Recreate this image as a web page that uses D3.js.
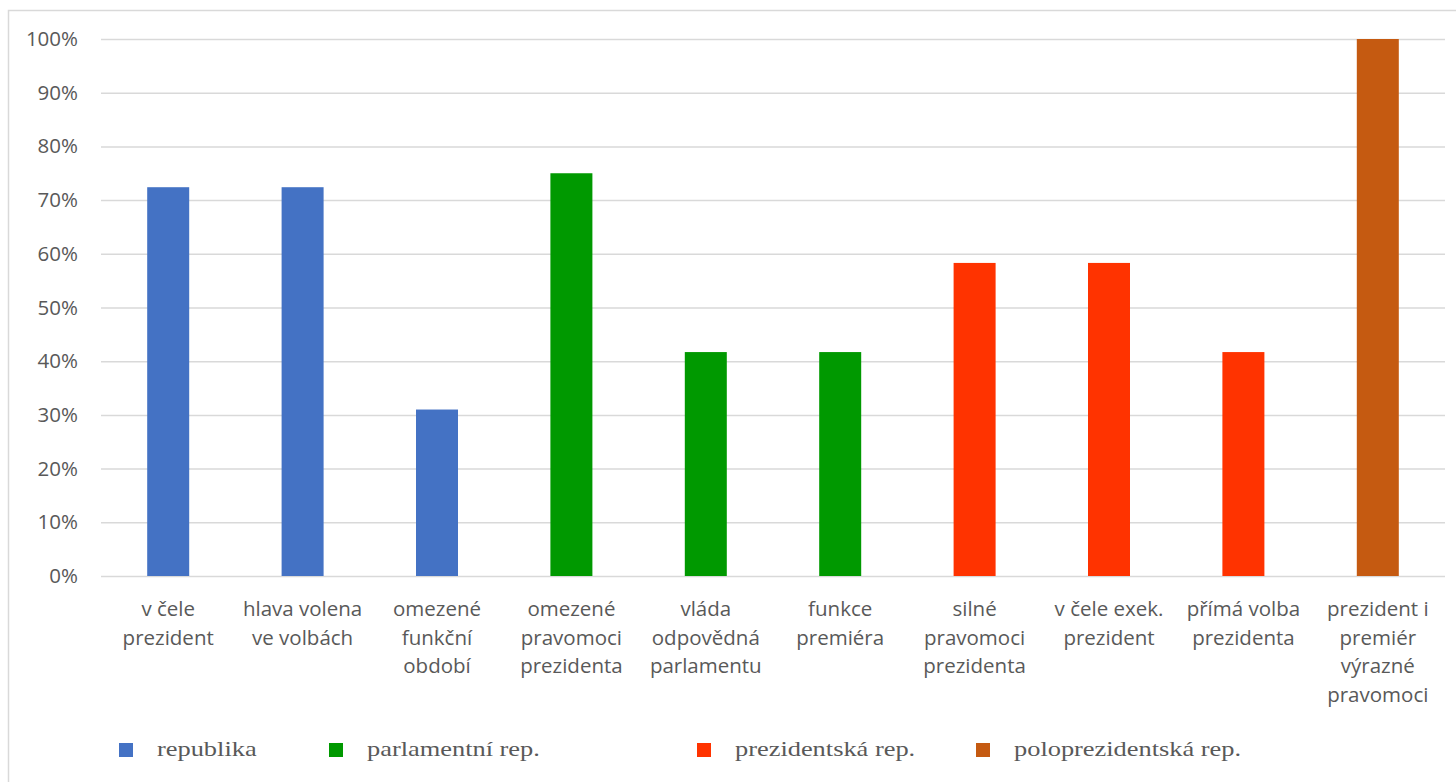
<!DOCTYPE html>
<html>
<head>
<meta charset="utf-8">
<script src="https://cdn.jsdelivr.net/npm/d3@7"></script>
<style>
  html, body { margin: 0; padding: 0; background: #fff; }
  svg { display: block; }
</style>
</head>
<body>
<svg id="chart" width="1456" height="782"></svg>
<script>
// ---- data ----
const categories = [
  ["v čele", "prezident"],
  ["hlava volena", "ve volbách"],
  ["omezené", "funkční", "období"],
  ["omezené", "pravomoci", "prezidenta"],
  ["vláda", "odpovědná", "parlamentu"],
  ["funkce", "premiéra"],
  ["silné", "pravomoci", "prezidenta"],
  ["v čele exek.", "prezident"],
  ["přímá volba", "prezidenta"],
  ["prezident i", "premiér", "výrazné", "pravomoci"]
];
const values = [72.4, 72.4, 31.0, 75.0, 41.7, 41.7, 58.3, 58.3, 41.7, 100];
const groups = ["republika", "republika", "republika",
  "parlamentní rep.", "parlamentní rep.", "parlamentní rep.",
  "prezidentská rep.", "prezidentská rep.", "prezidentská rep.",
  "poloprezidentská rep."];
const seriesNames = ["republika", "parlamentní rep.", "prezidentská rep.", "poloprezidentská rep."];
const seriesColors = ["#4472C4", "#009900", "#FF3300", "#C55A11"];
const yTicks = [0, 10, 20, 30, 40, 50, 60, 70, 80, 90, 100];

// ---- layout ----
const svg = d3.select("#chart");
const plot = { left: 101, right: 1445, top: 39, bottom: 576 };
const textColor = "#595959";
const gridColor = "#D9D9D9";

// outer chart border
svg.append("rect")
  .attr("x", 8.5).attr("y", 10.5)
  .attr("width", 1470).attr("height", 800)
  .attr("fill", "none").attr("stroke", gridColor).attr("stroke-width", 1.5);

const x = d3.scaleBand()
  .domain(d3.range(categories.length))
  .range([plot.left, plot.right])
  .paddingInner(0.6875)
  .paddingOuter(0.34375);

const y = d3.scaleLinear().domain([0, 100]).range([plot.bottom, plot.top]);

const color = d3.scaleOrdinal().domain(seriesNames).range(seriesColors);

// gridlines + y labels via axis
const yAxis = d3.axisLeft(y)
  .tickValues(yTicks)
  .tickSize(-(plot.right - plot.left))
  .tickPadding(23)
  .tickFormat(d => d + "%");

const gy = svg.append("g")
  .attr("transform", `translate(${plot.left},0)`)
  .call(yAxis);
gy.select(".domain").remove();
gy.selectAll(".tick line").attr("stroke", gridColor).attr("stroke-width", 1.5);
gy.selectAll(".tick text")
  .attr("fill", textColor)
  .style("font-family", "'Open Sans', sans-serif")
  .style("font-size", "20.5px");

// bars
svg.append("g").selectAll("rect")
  .data(values)
  .join("rect")
  .attr("x", (d, i) => x(i))
  .attr("width", x.bandwidth())
  .attr("y", d => y(d))
  .attr("height", d => y(0) - y(d))
  .attr("fill", (d, i) => color(groups[i]));

// category labels
const lineH = 28.5;
const catG = svg.append("g")
  .style("font-family", "'Open Sans', sans-serif")
  .style("font-size", "20.5px")
  .attr("fill", textColor)
  .attr("text-anchor", "middle");
categories.forEach((lines, i) => {
  const t = catG.append("text")
    .attr("x", x(i) + x.bandwidth() / 2)
    .attr("y", 616);
  lines.forEach((ln, j) => {
    t.append("tspan")
      .attr("x", x(i) + x.bandwidth() / 2)
      .attr("y", 616 + j * lineH)
      .text(ln);
  });
});

// legend
const legendMarkX = [119, 329, 697, 976];
const legendG = svg.append("g");
seriesNames.forEach((name, i) => {
  legendG.append("rect")
    .attr("x", legendMarkX[i]).attr("y", 743)
    .attr("width", 14).attr("height", 14)
    .attr("fill", color(name));
  legendG.append("text")
    .attr("transform", `translate(${legendMarkX[i] + 38},756) scale(1.2,1)`)
    .attr("fill", textColor)
    .style("font-family", "'Liberation Serif', 'Times New Roman', serif")
    .style("font-size", "22px")
    .text(name);
});
</script>
</body>
</html>
